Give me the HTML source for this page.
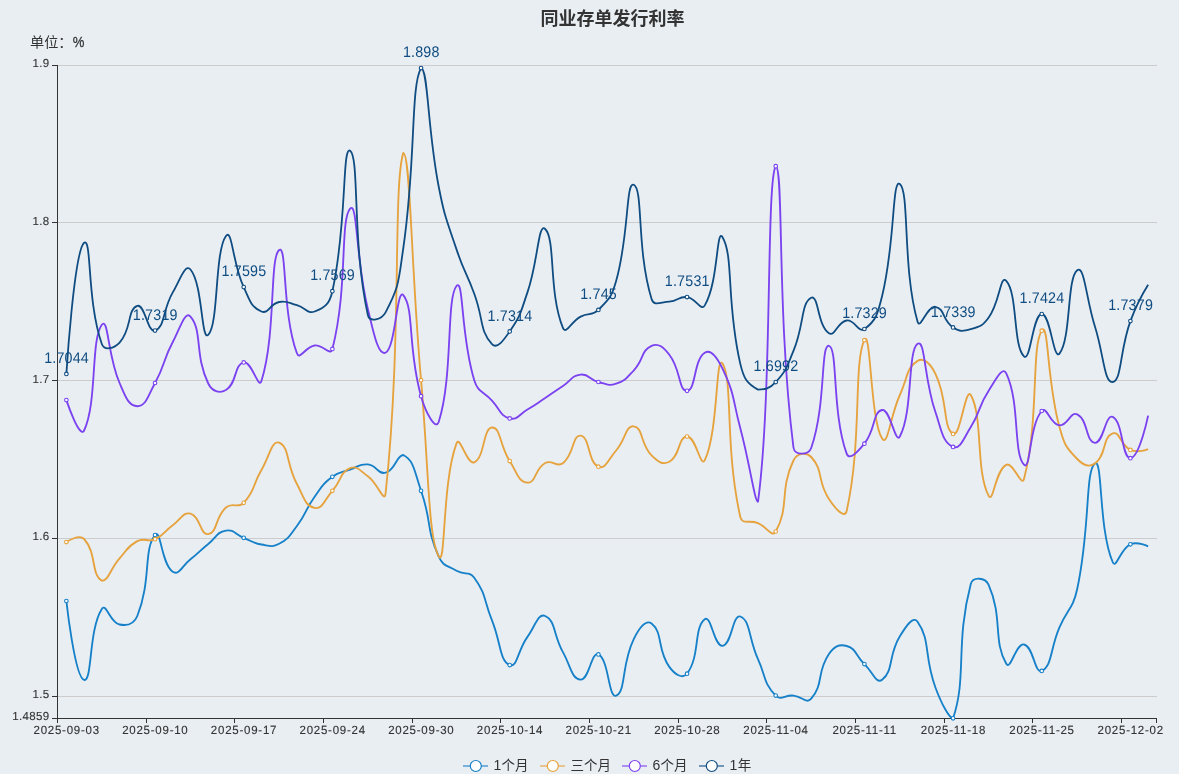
<!DOCTYPE html>
<html><head><meta charset="utf-8"><title>同业存单发行利率</title>
<style>
html,body{margin:0;padding:0;background:#e9eef3;}
body{width:1179px;height:774px;overflow:hidden;font-family:"Liberation Sans",sans-serif;}
svg{display:block;will-change:transform;}
svg text{font-family:"Liberation Sans","Noto Sans CJK SC",sans-serif;}
</style></head><body>
<svg role="img" aria-label="同业存单发行利率" width="1179" height="774" viewBox="0 0 1179 774">
<rect width="1179" height="774" fill="#e9eef3"/>
<text x="612.5" y="24.7" font-size="18" font-weight="bold" fill="#333" text-anchor="middle" font-family="&quot;Liberation Sans&quot;,&quot;Noto Sans CJK SC&quot;,sans-serif">同业存单发行利率</text>
<g stroke="#ccc" stroke-width="1" shape-rendering="crispEdges">
<line x1="58" y1="65.5" x2="1157" y2="65.5"/>
<line x1="58" y1="222.5" x2="1157" y2="222.5"/>
<line x1="58" y1="380.5" x2="1157" y2="380.5"/>
<line x1="58" y1="538.5" x2="1157" y2="538.5"/>
<line x1="58" y1="696.5" x2="1157" y2="696.5"/>
</g>
<g stroke="#333" stroke-width="1" shape-rendering="crispEdges">
<line x1="57.5" y1="65" x2="57.5" y2="719"/>
<line x1="57" y1="718.5" x2="1157" y2="718.5"/>
<line x1="52" y1="65.5" x2="57" y2="65.5"/>
<line x1="52" y1="222.5" x2="57" y2="222.5"/>
<line x1="52" y1="380.5" x2="57" y2="380.5"/>
<line x1="52" y1="538.5" x2="57" y2="538.5"/>
<line x1="52" y1="696.5" x2="57" y2="696.5"/>
<line x1="52" y1="718.5" x2="57" y2="718.5"/>
<line x1="57.5" y1="718" x2="57.5" y2="723"/>
<line x1="146.5" y1="718" x2="146.5" y2="723"/>
<line x1="234.5" y1="718" x2="234.5" y2="723"/>
<line x1="323.5" y1="718" x2="323.5" y2="723"/>
<line x1="412.5" y1="718" x2="412.5" y2="723"/>
<line x1="500.5" y1="718" x2="500.5" y2="723"/>
<line x1="589.5" y1="718" x2="589.5" y2="723"/>
<line x1="678.5" y1="718" x2="678.5" y2="723"/>
<line x1="766.5" y1="718" x2="766.5" y2="723"/>
<line x1="855.5" y1="718" x2="855.5" y2="723"/>
<line x1="944.5" y1="718" x2="944.5" y2="723"/>
<line x1="1032.5" y1="718" x2="1032.5" y2="723"/>
<line x1="1121.5" y1="718" x2="1121.5" y2="723"/>
<line x1="1156.5" y1="718" x2="1156.5" y2="723"/>
</g>
<g font-size="11.5" fill="#333" stroke="#333" stroke-width="0.12" text-anchor="end" letter-spacing="0.35" text-rendering="geometricPrecision">
<text transform="translate(49.5 67.3) scale(1 1.02)">1.9</text>
<text transform="translate(49.5 224.99) scale(1 1.02)">1.8</text>
<text transform="translate(49.5 382.68) scale(1 1.02)">1.7</text>
<text transform="translate(49.5 540.37) scale(1 1.02)">1.6</text>
<text transform="translate(49.5 698.07) scale(1 1.02)">1.5</text>
<text transform="translate(49.5 720.3) scale(1 1.02)">1.4859</text>
</g>
<g font-size="11.5" fill="#333" stroke="#333" stroke-width="0.12" text-anchor="middle" letter-spacing="0.75" text-rendering="geometricPrecision">
<text transform="translate(66.67 734.3) scale(1 1.03)">2025-09-03</text>
<text transform="translate(155.34 734.3) scale(1 1.03)">2025-09-10</text>
<text transform="translate(244.01 734.3) scale(1 1.03)">2025-09-17</text>
<text transform="translate(332.68 734.3) scale(1 1.03)">2025-09-24</text>
<text transform="translate(421.34 734.3) scale(1 1.03)">2025-09-30</text>
<text transform="translate(510.01 734.3) scale(1 1.03)">2025-10-14</text>
<text transform="translate(598.68 734.3) scale(1 1.03)">2025-10-21</text>
<text transform="translate(687.35 734.3) scale(1 1.03)">2025-10-28</text>
<text transform="translate(776.02 734.3) scale(1 1.03)">2025-11-04</text>
<text transform="translate(864.69 734.3) scale(1 1.03)">2025-11-11</text>
<text transform="translate(953.36 734.3) scale(1 1.03)">2025-11-18</text>
<text transform="translate(1042.03 734.3) scale(1 1.03)">2025-11-25</text>
<text transform="translate(1130.7 734.3) scale(1 1.03)">2025-12-02</text>
</g>
<text transform="translate(30 47.2) scale(1.05 1)" font-size="13.5" fill="#333" font-family="&quot;Liberation Sans&quot;,&quot;Noto Sans CJK SC&quot;,sans-serif">单位：</text>
<text transform="translate(72.8 47.2) scale(0.97 1.1)" font-size="13.5" fill="#333" stroke="#333" stroke-width="0.25">%</text>
<path d="M66.37 601C66.37 601 74.79 677.8 84.1 679.9C92.52 681.8 88.42 629.95 101.83 609C106.16 602.25 109.9 622.59 119.57 624.5C127.64 626.09 133.9 624.58 137.3 616C151.64 579.83 143.16 549.81 155.04 535C160.89 527.71 161.19 563.86 172.77 571.8C178.92 576.01 181.98 565.98 190.5 559.3C199.71 552.08 199.14 551.36 208.24 544C216.87 537.01 216.44 532.27 225.97 530.6C234.18 529.17 234.8 534.31 243.71 537.8C252.53 541.26 252.28 542.95 261.44 544.5C270.01 545.95 271.83 547.63 279.17 543.8C289.57 538.38 289.4 535.97 296.91 526C307.14 512.42 304.67 510.53 314.64 496.7C322.4 485.93 322.05 484.69 332.38 476.8C339.79 471.14 341.09 472.75 350.11 469.6C358.82 466.55 359.23 463.65 367.84 464.4C376.97 465.2 377.8 474.76 385.58 472.7C395.53 470.06 396.48 455 403.31 455C414.21 460.56 414.5 472.02 421.04 490.8C432.23 522.87 425.46 526.67 438.78 556.7C443.2 566.67 446.88 565.07 456.51 570.8C464.62 575.62 469.05 570.55 474.25 577.8C486.79 595.3 483.31 598.97 491.98 620.3C501.05 642.62 499.23 660.19 509.71 665.1C516.96 668.49 517.72 650.37 527.45 636.9C535.45 625.82 537.99 612.92 545.18 616C555.73 620.52 553.14 634.57 562.92 652.1C570.87 666.37 571.52 679.01 580.65 679.6C589.25 680.16 591.17 651.13 598.38 654.4C608.9 659.18 608.49 699.03 616.12 695.7C626.22 691.28 621.13 664.77 633.85 638.9C638.86 628.72 645.67 618.93 651.58 623.6C663.4 632.93 656.7 649.08 669.32 666.9C674.44 674.13 682.63 679.63 687.05 673.7C700.37 655.83 693.4 628.26 704.79 619.3C711.13 614.31 713.97 646.47 722.52 645.8C731.7 645.07 732.71 613.65 740.25 616.5C750.44 620.35 748.53 638.11 757.99 659.2C766.27 677.66 763.39 682.94 775.72 695.6C781.12 701.14 784.66 694.83 793.46 695.6C802.39 696.38 806.35 704.36 811.19 698.7C824.09 683.61 816.31 672.84 828.92 654.1C834.05 646.49 838.95 643.83 846.66 646C856.68 648.83 855.22 655.36 864.39 664.1C872.96 672.26 876.18 684.46 882.12 679.8C893.91 670.56 887.95 655.81 899.86 636.3C905.68 626.76 913.11 615.26 917.59 621.7C930.84 640.71 923.72 655.58 935.33 687.2C941.45 703.88 949.35 718.3 953.06 718.3C967.09 677.49 955.11 643.11 970.79 584C972.85 576.26 985.35 577.44 988.53 584.6C1003.08 617.34 992.86 641.16 1006.26 663.8C1010.59 671.11 1015.98 642.9 1024 644.5C1033.72 646.45 1034.57 674.35 1041.73 670.9C1052.3 665.8 1050.13 648.95 1059.46 627.4C1067.87 608 1072.76 609.51 1077.2 589C1090.5 527.51 1085.02 470.94 1094.93 463.4C1102.76 457.44 1098.48 529.64 1112.67 562C1116.21 570.09 1120.05 548.85 1130.4 544.3C1137.78 541.05 1148.13 546.4 1148.13 546.4" fill="none" stroke="#1680c8" stroke-width="1.85" stroke-linejoin="bevel"/>
<path d="M66.37 542.1C66.37 542.1 79.06 533.51 84.1 539C96.79 552.81 90.96 574.78 101.83 580.7C108.69 580.7 110.06 568.92 119.57 558.3C127.79 549.12 127 546.65 137.3 541.1C144.74 537.1 147.21 542.71 155.04 539.2C164.95 534.76 163.61 531.79 172.77 525.2C181.34 519.04 182.72 511.75 190.5 513.7C200.46 516.2 200.11 535.52 208.24 534.1C217.85 532.42 214.7 517.44 225.97 507.5C232.44 501.79 237.86 508.98 243.71 502.8C255.59 490.23 251.97 486.04 261.44 470C269.71 455.99 271.72 439.76 279.17 442.7C289.46 446.76 286.24 464.39 296.91 484C303.97 496.99 304.94 506.04 314.64 507.9C322.67 509.44 324.19 499.96 332.38 490.8C341.92 480.11 339.54 472.52 350.11 468.2C357.28 465.27 360 470.75 367.84 476.3C377.73 483.3 384.38 504.17 385.58 493.3C402.12 342.47 392.68 186.79 403.31 152.9C410.42 152.9 411.07 266.65 421.04 380.2C428.8 468.45 428.01 537.34 438.78 556.5C445.74 568.89 442.06 481.69 456.51 443.3C459.79 434.59 467.16 465.46 474.25 462.3C484.89 457.56 482.99 427.8 491.98 427.5C500.72 427.2 499.5 445.2 509.71 461.1C517.23 472.8 518.35 482.21 527.45 482.7C536.08 483.16 534.56 468.84 545.18 463C552.29 459.09 556.69 468.01 562.92 463.2C574.43 454.31 572.17 434.76 580.65 435.6C589.9 436.51 587.77 462.24 598.38 466.7C605.5 469.69 608.23 459.48 616.12 450.5C625.97 439.28 625.55 425.15 633.85 426.3C643.28 427.6 640.17 443.97 651.58 455.4C657.9 461.72 662.6 465.38 669.32 461.8C680.33 455.93 678 436.91 687.05 436.5C695.73 436.11 700.68 468.64 704.79 460.2C718.41 432.19 715.62 352.6 722.52 363.6C733.35 380.85 724.45 445.64 740.25 516.7C742.19 525.39 749.3 519.47 757.99 523.1C767.03 526.87 771.97 538.12 775.72 531.5C789.71 506.82 779.23 490.37 793.46 460.5C796.97 453.12 806.15 451.54 811.19 457C823.88 470.74 816.87 480.56 828.92 498.9C834.61 507.56 844.69 519.82 846.66 511C862.42 440.47 853.18 363.08 864.39 340.2C870.92 326.88 870.07 419.97 882.12 438.6C887.8 447.37 890.1 416.39 899.86 395C907.83 377.54 906.28 367.73 917.59 360.9C924.01 357.03 930.76 364.2 935.33 373.6C948.49 400.7 942.51 427.53 953.06 433.9C960.24 438.23 965.57 385.89 970.79 395C983.3 416.79 975.38 469.82 988.53 495.7C993.11 504.72 995.43 469.9 1006.26 464.8C1013.17 461.55 1021.65 487.85 1024 479C1039.39 420.8 1031.02 346.4 1041.73 330.7C1048.75 320.4 1046.55 380.3 1059.46 427C1064.29 444.45 1065.38 446.81 1077.2 459C1083.11 465.11 1088.84 468 1094.93 463.6C1106.57 455.2 1102.18 437.45 1112.67 433.4C1119.92 430.6 1120.16 445.34 1130.4 449.9C1137.9 453.24 1148.13 449.2 1148.13 449.2" fill="none" stroke="#e6a23c" stroke-width="1.85" stroke-linejoin="bevel"/>
<path d="M66.37 400.1C66.37 400.1 79.72 439.81 84.1 430.5C97.45 402.16 90.52 339.95 101.83 324.8C108.26 316.2 107.59 355.5 119.57 383C125.32 396.2 128.44 406.2 137.3 406.2C146.17 406.2 148.03 395.69 155.04 383C165.76 363.59 162.3 361.6 172.77 342C180.03 328.4 185.02 310.18 190.5 316.6C202.75 330.93 194.31 354.67 208.24 383.5C212.04 391.37 219.49 393.85 225.97 390C237.23 383.3 233.76 364.92 243.71 362.4C251.5 360.42 258.55 390.15 261.44 381C276.29 333.95 269.28 257.73 279.17 250C287.02 243.88 281.94 313 296.91 353.3C299.67 360.75 305.46 346.64 314.64 345.5C323.2 344.44 330.37 356.65 332.38 348.9C348.1 288.2 339.8 220.19 350.11 208.6C357.54 200.24 355.72 259.74 367.84 309C373.45 331.79 377.79 355.75 385.58 352.7C395.53 348.8 396.75 287.05 403.31 295.1C414.48 308.8 407.43 347.61 421.04 396.2C425.16 410.91 435.5 431.89 438.78 421.7C453.23 376.79 446.08 298.2 456.51 286C463.82 277.45 460.41 335.5 474.25 380.2C478.15 392.8 482.79 390.7 491.98 400.6C500.52 409.8 499.8 415.91 509.71 418.4C517.54 420.36 518.86 414.44 527.45 409.5C536.59 404.24 536.37 403.84 545.18 398C554.11 392.09 553.98 391.9 562.92 386C571.71 380.2 571.37 375.65 580.65 374.6C589.11 373.65 589.18 379.66 598.38 382C606.91 384.16 608.22 386.21 616.12 383.6C625.95 380.36 626.35 378.29 633.85 370.3C644.08 359.39 640.88 350.51 651.58 345.8C658.61 342.71 663.46 347.27 669.32 354.7C681.19 369.77 678.38 391.29 687.05 390.8C696.11 390.29 693.48 359.75 704.79 352.7C711.21 348.7 717.58 358.22 722.52 368.7C735.32 395.87 732.29 398.11 740.25 428C750.03 464.71 754.72 501.9 757.99 501.9C772.45 395.14 766.08 181 775.72 166.2C783.81 166.2 776.77 314.94 793.46 447.5C794.51 455.84 808.6 455.43 811.19 448C826.33 404.58 820.29 344.44 828.92 345.8C838.02 347.24 831.7 412.32 846.66 453.6C849.44 461.27 858.22 451.28 864.39 443.7C875.96 429.48 872.47 411.96 882.12 410C890.21 408.36 895.38 444.86 899.86 436.5C913.11 411.76 907.43 350.88 917.59 343.8C925.16 338.53 923.96 378.75 935.33 411.8C941.69 430.3 942.49 442.37 953.06 446.9C960.22 449.97 963.73 438.16 970.79 427C981.46 410.16 977.59 407.46 988.53 390.9C995.32 380.61 1002.51 365.49 1006.26 373.3C1020.24 402.39 1012.96 452.97 1024 464.7C1030.7 471.82 1029.09 425.04 1041.73 411C1046.82 405.34 1050.21 424.44 1059.46 425.3C1067.94 426.09 1070.4 410.95 1077.2 414.3C1088.13 419.7 1085.77 442.13 1094.93 442.8C1103.5 443.43 1105.37 413.73 1112.67 416.9C1123.11 421.43 1121.65 458.52 1130.4 458.2C1139.38 457.87 1148.13 415.6 1148.13 415.6" fill="none" stroke="#7b42f0" stroke-width="1.85" stroke-linejoin="bevel"/>
<path d="M66.37 373.9C66.37 373.9 74.12 251.21 84.1 242.8C91.85 236.26 86.72 301.46 101.83 344C104.45 351.36 114.18 348.39 119.57 342.6C131.91 329.34 127.15 309.34 137.3 305.9C144.88 303.34 147.6 333.43 155.04 330.6C165.33 326.68 162.26 310.5 172.77 292.4C180 279.95 185.19 263.14 190.5 269.5C202.93 284.39 201.1 341.65 208.24 334.9C218.83 324.9 214.44 251.54 225.97 236C232.18 227.64 232.32 262.86 243.71 287.1C250.05 300.61 250.8 307.03 261.44 311.5C268.53 314.48 269.82 303.66 279.17 302C287.55 300.51 288.23 302.88 296.91 305.2C305.97 307.63 307.35 314.38 314.64 311.5C325.08 307.38 329.54 304.06 332.38 291.2C347.27 223.71 341.93 145.31 350.11 150.8C359.66 157.21 351.85 242.16 367.84 315C369.58 322.91 381.82 319.4 385.58 312.3C399.55 285.9 398.53 280.91 403.31 248C416.26 158.81 410.39 86.42 421.04 68.1C428.13 68.1 427.26 128.12 438.78 187C444.99 218.77 446.29 218.66 456.51 249.4C464.03 272.01 465.88 271.36 474.25 293.7C483.61 318.71 479.39 330.71 491.98 344.1C497.12 349.56 503.73 340.12 509.71 331.4C521.46 314.27 520.46 312.58 527.45 292.4C538.19 261.38 538.16 221.99 545.18 229C555.89 239.69 548.25 291.57 562.92 327.8C565.98 335.37 571.33 321.3 580.65 316.6C589.07 312.35 592.02 316.28 598.38 309.9C609.76 298.48 611.55 297.1 616.12 281C629.29 234.55 625.72 180.67 633.85 184.8C643.46 189.67 636.23 248.44 651.58 299C653.97 306.84 660.54 302.07 669.32 301.6C678.28 301.12 678.49 296.18 687.05 297.1C696.22 298.08 700.93 311.91 704.79 305.4C718.66 281.96 716.21 226.85 722.52 237.2C733.95 255.95 726.03 302.47 740.25 363.6C743.76 378.67 746.99 383.86 757.99 389.6C764.72 389.6 769.53 388.86 775.72 382.1C787.26 369.51 786.53 367.37 793.46 350.9C804.26 325.22 800.8 302.98 811.19 297.8C818.54 294.13 817.49 325.88 828.92 333.2C835.22 337.23 837.33 321.6 846.66 320.5C855.07 319.5 858.29 333.22 864.39 329C876.02 320.97 877.72 314 882.12 296C895.45 241.5 891.89 178.2 899.86 184C909.62 191.1 902.4 269.19 917.59 321.8C920.13 330.59 927.16 305.51 935.33 306.8C944.89 308.31 942.35 320.64 953.06 327.4C960.08 331.84 962.67 331.4 970.79 329.2C980.4 326.6 982.51 326.01 988.53 317.8C1000.24 301.81 1000.13 274.14 1006.26 280.8C1017.86 293.39 1012.85 345.87 1024 356.3C1030.59 362.47 1032.62 314.69 1041.73 314C1050.35 313.34 1053.48 360.99 1059.46 353.6C1071.22 339.09 1066.72 278.21 1077.2 270.2C1084.45 264.66 1086.01 298.37 1094.93 326.5C1103.74 354.27 1104.17 383.29 1112.67 382C1121.91 380.59 1119.57 350.79 1130.4 321.1C1137.31 302.14 1148.13 284.7 1148.13 284.7" fill="none" stroke="#0f4c81" stroke-width="1.8" stroke-linejoin="bevel"/>
<g fill="#fff" stroke="#1680c8" stroke-width="1.1">
<circle cx="66.37" cy="601" r="1.8"/>
<circle cx="155.04" cy="535" r="1.8"/>
<circle cx="243.71" cy="537.8" r="1.8"/>
<circle cx="332.38" cy="476.8" r="1.8"/>
<circle cx="421.04" cy="490.8" r="1.8"/>
<circle cx="509.71" cy="665.1" r="1.8"/>
<circle cx="598.38" cy="654.4" r="1.8"/>
<circle cx="687.05" cy="673.7" r="1.8"/>
<circle cx="775.72" cy="695.6" r="1.8"/>
<circle cx="864.39" cy="664.1" r="1.8"/>
<circle cx="953.06" cy="718.3" r="1.8"/>
<circle cx="1041.73" cy="670.9" r="1.8"/>
<circle cx="1130.4" cy="544.3" r="1.8"/>
</g>
<g fill="#fff" stroke="#e6a23c" stroke-width="1.1">
<circle cx="66.37" cy="542.1" r="1.8"/>
<circle cx="155.04" cy="539.2" r="1.8"/>
<circle cx="243.71" cy="502.8" r="1.8"/>
<circle cx="332.38" cy="490.8" r="1.8"/>
<circle cx="421.04" cy="380.2" r="1.8"/>
<circle cx="509.71" cy="461.1" r="1.8"/>
<circle cx="598.38" cy="466.7" r="1.8"/>
<circle cx="687.05" cy="436.5" r="1.8"/>
<circle cx="775.72" cy="531.5" r="1.8"/>
<circle cx="864.39" cy="340.2" r="1.8"/>
<circle cx="953.06" cy="433.9" r="1.8"/>
<circle cx="1041.73" cy="330.7" r="1.8"/>
<circle cx="1130.4" cy="449.9" r="1.8"/>
</g>
<g fill="#fff" stroke="#7b42f0" stroke-width="1.1">
<circle cx="66.37" cy="400.1" r="1.8"/>
<circle cx="155.04" cy="383" r="1.8"/>
<circle cx="243.71" cy="362.4" r="1.8"/>
<circle cx="332.38" cy="348.9" r="1.8"/>
<circle cx="421.04" cy="396.2" r="1.8"/>
<circle cx="509.71" cy="418.4" r="1.8"/>
<circle cx="598.38" cy="382" r="1.8"/>
<circle cx="687.05" cy="390.8" r="1.8"/>
<circle cx="775.72" cy="166.2" r="1.8"/>
<circle cx="864.39" cy="443.7" r="1.8"/>
<circle cx="953.06" cy="446.9" r="1.8"/>
<circle cx="1041.73" cy="411" r="1.8"/>
<circle cx="1130.4" cy="458.2" r="1.8"/>
</g>
<g fill="#fff" stroke="#0f4c81" stroke-width="1.1">
<circle cx="66.37" cy="373.9" r="1.8"/>
<circle cx="155.04" cy="330.6" r="1.8"/>
<circle cx="243.71" cy="287.1" r="1.8"/>
<circle cx="332.38" cy="291.2" r="1.8"/>
<circle cx="421.04" cy="68.1" r="1.8"/>
<circle cx="509.71" cy="331.4" r="1.8"/>
<circle cx="598.38" cy="309.9" r="1.8"/>
<circle cx="687.05" cy="297.1" r="1.8"/>
<circle cx="775.72" cy="382.1" r="1.8"/>
<circle cx="864.39" cy="329" r="1.8"/>
<circle cx="953.06" cy="327.4" r="1.8"/>
<circle cx="1041.73" cy="314" r="1.8"/>
<circle cx="1130.4" cy="321.1" r="1.8"/>
</g>
<g font-size="15.4" fill="#0f4c81" text-anchor="middle" letter-spacing="0.2" text-rendering="geometricPrecision">
<text transform="translate(66.57 363) scale(0.9286 1)">1.7044</text>
<text transform="translate(155.24 319.7) scale(0.9286 1)">1.7319</text>
<text transform="translate(243.91 276.2) scale(0.9286 1)">1.7595</text>
<text transform="translate(332.57 280.3) scale(0.9286 1)">1.7569</text>
<text transform="translate(421.24 57.2) scale(0.9286 1)">1.898</text>
<text transform="translate(509.91 320.5) scale(0.9286 1)">1.7314</text>
<text transform="translate(598.58 299) scale(0.9286 1)">1.745</text>
<text transform="translate(687.25 286.2) scale(0.9286 1)">1.7531</text>
<text transform="translate(775.92 371.2) scale(0.9286 1)">1.6992</text>
<text transform="translate(864.59 318.1) scale(0.9286 1)">1.7329</text>
<text transform="translate(953.26 316.5) scale(0.9286 1)">1.7339</text>
<text transform="translate(1041.93 303.1) scale(0.9286 1)">1.7424</text>
<text transform="translate(1130.6 310.2) scale(0.9286 1)">1.7379</text>
</g>
<line x1="463" y1="766" x2="488" y2="766" stroke="#1680c8" stroke-width="2" stroke-opacity="0.55"/>
<circle cx="475.8" cy="766" r="5.5" fill="#fff" stroke="#1680c8" stroke-width="1.2"/>
<text x="493.6" y="770.3" font-size="14" fill="#333">1</text>
<text x="501.5" y="770.3" font-size="13.5" fill="#333" font-family="&quot;Liberation Sans&quot;,&quot;Noto Sans CJK SC&quot;,sans-serif">个月</text>
<line x1="540" y1="766" x2="565" y2="766" stroke="#e6a23c" stroke-width="2" stroke-opacity="0.55"/>
<circle cx="552.8" cy="766" r="5.5" fill="#fff" stroke="#e6a23c" stroke-width="1.2"/>
<text x="570.5" y="770.3" font-size="13.5" fill="#333" font-family="&quot;Liberation Sans&quot;,&quot;Noto Sans CJK SC&quot;,sans-serif">三个月</text>
<line x1="622" y1="766" x2="647" y2="766" stroke="#7b42f0" stroke-width="2" stroke-opacity="0.55"/>
<circle cx="634.8" cy="766" r="5.5" fill="#fff" stroke="#7b42f0" stroke-width="1.2"/>
<text x="652.6" y="770.3" font-size="14" fill="#333">6</text>
<text x="660.5" y="770.3" font-size="13.5" fill="#333" font-family="&quot;Liberation Sans&quot;,&quot;Noto Sans CJK SC&quot;,sans-serif">个月</text>
<line x1="699" y1="766" x2="724" y2="766" stroke="#0f4c81" stroke-width="2" stroke-opacity="0.55"/>
<circle cx="711.8" cy="766" r="5.5" fill="#fff" stroke="#0f4c81" stroke-width="1.2"/>
<text x="729.6" y="770.3" font-size="14" fill="#333">1</text>
<text x="737.7" y="770.3" font-size="13.5" fill="#333" font-family="&quot;Liberation Sans&quot;,&quot;Noto Sans CJK SC&quot;,sans-serif">年</text>
</svg>
</body></html>
